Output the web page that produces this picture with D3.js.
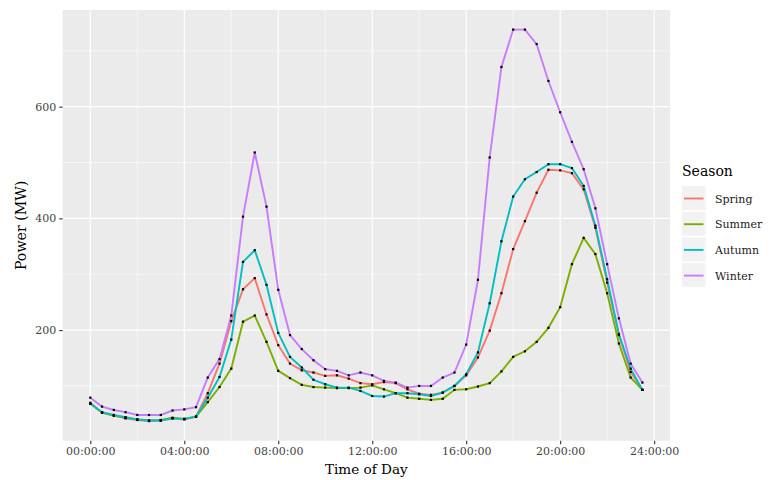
<!DOCTYPE html>
<html>
<head>
<meta charset="utf-8">
<script src="https://cdn.jsdelivr.net/npm/d3@7"></script>
<style>
  body { margin: 0; background: #fff; }
  svg text { font-family: "DejaVu Serif", serif; }
</style>
</head>
<body>
<script>
// half-hour steps, in hours
var hours = d3.range(0, 24, 0.5);
var seasons = ["Spring", "Summer", "Autumn", "Winter"];
var colors = ["#F8766D", "#7CAE00", "#00BFC4", "#C77CFF"];
var xTicks = [0, 4, 8, 12, 16, 20, 24];
var yTicks = [200, 400, 600];

var spring = [68,52,47,42,39,37,38,42,40,45, 87,140,216,273,293,228,173,140,128,124,
  118,119,113,105,103,107,105,94,86,84, 88,100,119,151,199,266,345,395,446,487,
  486,481,452,383,285,191,125,93];
var summer = [70,52,47,43,40,38,39,43,41,45, 71,98,131,215,226,179,127,114,102,98,
  97,96,96,97,101,94,87,79,77,75, 77,93,94,99,105,126,152,162,179,204,
  241,318,365,336,266,176,115,93];
var autumn = [68,53,48,44,40,38,38,42,41,45, 79,116,183,322,343,281,195,152,133,111,
  103,97,97,91,82,81,87,87,85,82, 88,100,121,160,248,359,439,470,483,497,
  497,490,458,387,291,193,131,93];
var winter = [79,63,57,53,48,48,48,56,58,62, 115,148,226,403,518,421,272,191,166,146,
  130,127,119,124,119,109,106,97,100,100, 115,124,174,290,509,671,738,738,712,646,
  590,537,488,418,318,221,140,106];

var series = [spring, summer, autumn, winter];

var W = 772, H = 480;
var panel = {left: 62.7, right: 670, top: 10, bottom: 440.7};

var svg = d3.select("body").append("svg").attr("width", W).attr("height", H);

// ggplot style 5% expansion
var xExt = d3.extent(hours), xPad = (xExt[1] - xExt[0]) * 0.05;
var allVals = d3.merge(series);
var yExt = d3.extent(allVals), yPad = (yExt[1] - yExt[0]) * 0.05;

var x = d3.scaleLinear().domain([xExt[0] - xPad, xExt[1] + xPad]).range([panel.left, panel.right]);
var y = d3.scaleLinear().domain([yExt[0] - yPad, yExt[1] + yPad]).range([panel.bottom, panel.top]);

svg.append("rect")
  .attr("x", panel.left).attr("y", panel.top)
  .attr("width", panel.right - panel.left).attr("height", panel.bottom - panel.top)
  .attr("fill", "#EBEBEB");

var grid = svg.append("g");
var xMinor = d3.range(2, 24, 4);
var yMinor = [100, 300, 500, 700];
grid.selectAll(".xm").data(xMinor).enter().append("line")
  .attr("x1", x).attr("x2", x).attr("y1", panel.top).attr("y2", panel.bottom)
  .attr("stroke", "#fff").attr("stroke-width", 0.6);
grid.selectAll(".ym").data(yMinor).enter().append("line")
  .attr("y1", y).attr("y2", y).attr("x1", panel.left).attr("x2", panel.right)
  .attr("stroke", "#fff").attr("stroke-width", 0.6);
grid.selectAll(".xM").data(xTicks).enter().append("line")
  .attr("x1", x).attr("x2", x).attr("y1", panel.top).attr("y2", panel.bottom)
  .attr("stroke", "#fff").attr("stroke-width", 1.2);
grid.selectAll(".yM").data(yTicks).enter().append("line")
  .attr("y1", y).attr("y2", y).attr("x1", panel.left).attr("x2", panel.right)
  .attr("stroke", "#fff").attr("stroke-width", 1.2);

// axes
var fmt = function(h){ return d3.format("02d")(h) + ":00:00"; };
var xAxis = svg.append("g")
  .attr("transform", "translate(0," + panel.bottom + ")")
  .call(d3.axisBottom(x).tickValues(xTicks).tickFormat(fmt).tickSize(3.5).tickPadding(3));
var yAxis = svg.append("g")
  .attr("transform", "translate(" + panel.left + ",0)")
  .call(d3.axisLeft(y).tickValues(yTicks).tickSize(3.5).tickPadding(3));
[xAxis, yAxis].forEach(function(a){
  a.select(".domain").remove();
  a.selectAll(".tick line").attr("stroke", "#333").attr("stroke-width", 1.1);
  a.selectAll(".tick text").attr("fill", "#444").style("font-size", "11px")
    .style("font-family", "DejaVu Serif");
});

// lines and points
var line = d3.line().x(function(d, i){ return x(hours[i]); }).y(function(d){ return y(d); });
series.forEach(function(s, k){
  svg.append("path").datum(s)
    .attr("d", line).attr("fill", "none")
    .attr("stroke", colors[k]).attr("stroke-width", 1.9);
});
series.forEach(function(s){
  svg.append("g").selectAll("rect").data(s).enter().append("rect")
    .attr("x", function(d, i){ return x(hours[i]) - 1.1; })
    .attr("y", function(d){ return y(d) - 1.1; })
    .attr("width", 2.2).attr("height", 2.2).attr("fill", "#000");
});

// axis titles
svg.append("text").attr("x", (panel.left + panel.right) / 2).attr("y", 474)
  .attr("text-anchor", "middle").style("font-size", "13.6px").text("Time of Day");
svg.append("text").attr("transform", "translate(26," + ((panel.top + panel.bottom) / 2) + ") rotate(-90)")
  .attr("text-anchor", "middle").style("font-size", "14.2px").text("Power (MW)");

// legend
var leg = svg.append("g");
leg.append("text").attr("x", 682).attr("y", 176).style("font-size", "14px").text("Season");
var items = leg.selectAll(".item").data(seasons).enter().append("g")
  .attr("transform", function(d, i){ return "translate(682," + (186 + i * 25.7) + ")"; });
items.append("rect").attr("width", 23.5).attr("height", 24).attr("fill", "#F2F2F2");
items.append("line").attr("x1", 2).attr("x2", 21.5).attr("y1", 12.5).attr("y2", 12.5)
  .attr("stroke", function(d, i){ return colors[i]; }).attr("stroke-width", 1.9);
items.append("text").attr("x", 33).attr("y", 16.5).style("font-size", "11px")
  .attr("fill", "#1a1a1a").text(function(d){ return d; });
</script>
</body>
</html>
